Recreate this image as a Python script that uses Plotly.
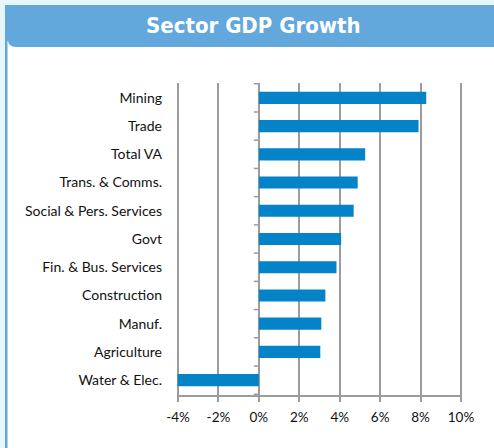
import plotly.graph_objects as go

categories = ["Mining", "Trade", "Total VA", "Trans. & Comms.", "Social & Pers. Services",
              "Govt", "Fin. & Bus. Services", "Construction", "Manuf.", "Agriculture",
              "Water & Elec."]
growth = [8.28, 7.90, 5.26, 4.89, 4.69, 4.07, 3.84, 3.29, 3.09, 3.04, -4.02]
x_ticks = [-4, -2, 0, 2, 4, 6, 8, 10]
x_tick_labels = ["-4%", "-2%", "0%", "2%", "4%", "6%", "8%", "10%"]
title_text = "Sector GDP Growth"

W, H = 494, 448
ML, MR, MT, MB = 177, 32, 83, 53
PW, PH = W - ML - MR, H - MT - MB

def px(xp):
    return (xp - ML) / PW

def py(yp):
    return (H - MB - yp) / PH

BLUE = "#62a8dc"
LIGHT = "#e7f5fc"
BAR = "#0583c9"
GRID = "#9c9c9c"

fig = go.Figure()
fig.add_trace(go.Bar(
    x=growth, y=categories, orientation="h",
    marker=dict(color=BAR, line=dict(width=0)),
    hoverinfo="skip",
))

shapes = []
# light outer strips
shapes.append(dict(type="rect", xref="paper", yref="paper", x0=px(0), x1=px(W), y0=py(0), y1=py(5),
                   fillcolor=LIGHT, line=dict(width=0), layer="below"))
shapes.append(dict(type="rect", xref="paper", yref="paper", x0=px(0), x1=px(5), y0=py(0), y1=py(H),
                   fillcolor=LIGHT, line=dict(width=0), layer="below"))
# left blue border
shapes.append(dict(type="rect", xref="paper", yref="paper", x0=px(5), x1=px(7.5), y0=py(5), y1=py(H),
                   fillcolor=BLUE, line=dict(width=0), layer="below"))
# header
hdr = (f"M {px(5)},{py(5)} L {px(W)},{py(5)} L {px(W)},{py(47)} L {px(16)},{py(47)} "
       f"Q {px(8)},{py(47)} {px(8)},{py(40)} L {px(5)},{py(40)} Z")
shapes.append(dict(type="path", xref="paper", yref="paper", path=hdr,
                   fillcolor=BLUE, line=dict(width=0), layer="below"))
shapes.append(dict(type="rect", xref="paper", yref="paper", x0=px(5), x1=px(W), y0=py(5), y1=py(41),
                   fillcolor=BLUE, line=dict(width=0), layer="below"))

# category tick marks on the zero axis (between categories)
n = len(categories)
for i in range(n + 1):
    shapes.append(dict(type="line", xref="x", yref="y", xsizemode="pixel", xanchor=0,
                       x0=-5, x1=0, y0=i - 0.5, y1=i - 0.5,
                       line=dict(color=GRID, width=1.5)))

fig.update_layout(
    width=W, height=H,
    margin=dict(l=ML, r=MR, t=MT, b=MB, pad=0),
    paper_bgcolor="white", plot_bgcolor="white",
    showlegend=False,
    bargap=0.57,
    shapes=shapes,
    font=dict(family="Lato, Liberation Sans, sans-serif", color="#111111", size=14),
    annotations=[dict(text=f"<b>{title_text}</b>", xref="paper", yref="paper",
                      x=px(253), y=py(25), xanchor="center", yanchor="middle",
                      showarrow=False,
                      font=dict(family="DejaVu Sans Condensed, Liberation Sans Narrow, sans-serif",
                                size=22, color="white"))],
    xaxis=dict(range=[-4.05, 10.05], tickvals=x_ticks, ticktext=x_tick_labels,
               showgrid=True, gridcolor=GRID, gridwidth=1.6,
               zeroline=True, zerolinecolor=GRID, zerolinewidth=1.6,
               showline=True, linecolor=GRID, linewidth=1.6,
               ticks="outside", ticklen=5, tickcolor=GRID, tickwidth=1.6,
               ticklabelstandoff=4,
               tickfont=dict(size=13.5), fixedrange=True),
    yaxis=dict(categoryorder="array", categoryarray=categories[::-1],
               showgrid=False, zeroline=False, showline=False, ticks="",
               ticklabelstandoff=14,
               tickfont=dict(size=14), fixedrange=True),
)

fig.write_html("out.html", config={"displayModeBar": False},
               post_script="document.body.style.margin='0';document.body.style.overflow='hidden';")
